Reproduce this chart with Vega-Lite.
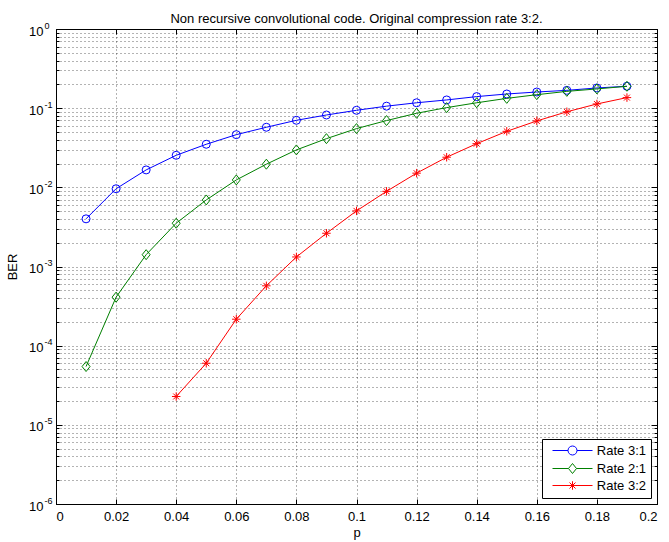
{
  "$schema": "https://vega.github.io/schema/vega-lite/v6.json",
  "width": 601,
  "height": 475,
  "autosize": {"type": "none"},
  "padding": {"left": 56, "top": 29, "right": 12, "bottom": 38},
  "background": "white",
  "title": {"text": "Non recursive convolutional code. Original compression rate 3:2.", "font": "Liberation Sans", "fontSize": 13, "fontWeight": "normal", "color": "black", "offset": -5, "anchor": "middle", "frame": "group"},
  "config": {
    "view": {"stroke": "black", "strokeWidth": 1},
    "axis": {"labelFont": "Liberation Sans", "labelFontSize": 13, "labelColor": "black", "titleFont": "Liberation Sans", "titleFontSize": 13, "titleFontWeight": "normal", "titleColor": "black", "domainColor": "black", "tickColor": "black", "gridColor": "#000000", "gridDash": [1, 3], "gridOpacity": 0.6, "gridWidth": 1}
  },
  "data": {"values": [
    {"p": 0.01, "ber": 0.0040, "series": "Rate 3:1"},
    {"p": 0.02, "ber": 0.0096, "series": "Rate 3:1"},
    {"p": 0.03, "ber": 0.0166, "series": "Rate 3:1"},
    {"p": 0.04, "ber": 0.0254, "series": "Rate 3:1"},
    {"p": 0.05, "ber": 0.035, "series": "Rate 3:1"},
    {"p": 0.06, "ber": 0.0463, "series": "Rate 3:1"},
    {"p": 0.07, "ber": 0.0574, "series": "Rate 3:1"},
    {"p": 0.08, "ber": 0.0703, "series": "Rate 3:1"},
    {"p": 0.09, "ber": 0.082, "series": "Rate 3:1"},
    {"p": 0.10, "ber": 0.094, "series": "Rate 3:1"},
    {"p": 0.11, "ber": 0.106, "series": "Rate 3:1"},
    {"p": 0.12, "ber": 0.117, "series": "Rate 3:1"},
    {"p": 0.13, "ber": 0.127, "series": "Rate 3:1"},
    {"p": 0.14, "ber": 0.140, "series": "Rate 3:1"},
    {"p": 0.15, "ber": 0.151, "series": "Rate 3:1"},
    {"p": 0.16, "ber": 0.160, "series": "Rate 3:1"},
    {"p": 0.17, "ber": 0.168, "series": "Rate 3:1"},
    {"p": 0.18, "ber": 0.180, "series": "Rate 3:1"},
    {"p": 0.19, "ber": 0.189, "series": "Rate 3:1"},
    {"p": 0.01, "ber": 0.0000545, "series": "Rate 2:1"},
    {"p": 0.02, "ber": 0.00041, "series": "Rate 2:1"},
    {"p": 0.03, "ber": 0.00141, "series": "Rate 2:1"},
    {"p": 0.04, "ber": 0.00352, "series": "Rate 2:1"},
    {"p": 0.05, "ber": 0.00693, "series": "Rate 2:1"},
    {"p": 0.06, "ber": 0.0124, "series": "Rate 2:1"},
    {"p": 0.07, "ber": 0.0196, "series": "Rate 2:1"},
    {"p": 0.08, "ber": 0.0297, "series": "Rate 2:1"},
    {"p": 0.09, "ber": 0.0412, "series": "Rate 2:1"},
    {"p": 0.10, "ber": 0.0552, "series": "Rate 2:1"},
    {"p": 0.11, "ber": 0.0697, "series": "Rate 2:1"},
    {"p": 0.12, "ber": 0.0862, "series": "Rate 2:1"},
    {"p": 0.13, "ber": 0.1016, "series": "Rate 2:1"},
    {"p": 0.14, "ber": 0.117, "series": "Rate 2:1"},
    {"p": 0.15, "ber": 0.133, "series": "Rate 2:1"},
    {"p": 0.16, "ber": 0.148, "series": "Rate 2:1"},
    {"p": 0.17, "ber": 0.163, "series": "Rate 2:1"},
    {"p": 0.18, "ber": 0.175, "series": "Rate 2:1"},
    {"p": 0.19, "ber": 0.189, "series": "Rate 2:1"},
    {"p": 0.04, "ber": 0.0000228, "series": "Rate 3:2"},
    {"p": 0.05, "ber": 0.00006, "series": "Rate 3:2"},
    {"p": 0.06, "ber": 0.000216, "series": "Rate 3:2"},
    {"p": 0.07, "ber": 0.00057, "series": "Rate 3:2"},
    {"p": 0.08, "ber": 0.00132, "series": "Rate 3:2"},
    {"p": 0.09, "ber": 0.00263, "series": "Rate 3:2"},
    {"p": 0.10, "ber": 0.00504, "series": "Rate 3:2"},
    {"p": 0.11, "ber": 0.0089, "series": "Rate 3:2"},
    {"p": 0.12, "ber": 0.0151, "series": "Rate 3:2"},
    {"p": 0.13, "ber": 0.024, "series": "Rate 3:2"},
    {"p": 0.14, "ber": 0.0356, "series": "Rate 3:2"},
    {"p": 0.15, "ber": 0.051, "series": "Rate 3:2"},
    {"p": 0.16, "ber": 0.069, "series": "Rate 3:2"},
    {"p": 0.17, "ber": 0.090, "series": "Rate 3:2"},
    {"p": 0.18, "ber": 0.113, "series": "Rate 3:2"},
    {"p": 0.19, "ber": 0.136, "series": "Rate 3:2"}
  ]},
  "layer": [
    {
      "transform": [{"filter": "datum.series === 'Rate 3:1'"}],
      "mark": {"type": "line", "strokeWidth": 1, "color": "#0000ff", "clip": true,
        "point": {"shape": "circle", "filled": false, "size": 64, "strokeWidth": 1, "color": "#0000ff"}},
      "encoding": {
        "x": {"field": "p", "type": "quantitative", "scale": {"domain": [0, 0.2], "nice": false, "zero": false},
          "axis": {"orient": "bottom", "values": [0, 0.02, 0.04, 0.06, 0.08, 0.1, 0.12, 0.14, 0.16, 0.18, 0.2], "format": "~g", "title": "p", "grid": true, "tickSize": -5, "labelPadding": 11, "titlePadding": 3}},
        "y": {"field": "ber", "type": "quantitative", "scale": {"type": "log", "domain": [0.000001, 1], "nice": false},
          "axis": {"orient": "left", "title": "BER", "grid": true, "titlePadding": 9, "labelPadding": 19, "labelOffset": 2,
            "values": [0.000001, 0.000002, 0.000003, 0.000004, 0.000005, 0.000006, 0.000007, 0.000008, 0.000009, 0.00001, 0.00002, 0.00003, 0.00004, 0.00005, 0.00006, 0.00007, 0.00008, 0.00009, 0.0001, 0.0002, 0.0003, 0.0004, 0.0005, 0.0006, 0.0007, 0.0008, 0.0009, 0.001, 0.002, 0.003, 0.004, 0.005, 0.006, 0.007, 0.008, 0.009, 0.01, 0.02, 0.03, 0.04, 0.05, 0.06, 0.07, 0.08, 0.09, 0.1, 0.2, 0.3, 0.4, 0.5, 0.6, 0.7, 0.8, 0.9, 1],
            "labelExpr": "abs(log(datum.value)/LN10 - round(log(datum.value)/LN10)) > 0.01 ? '' : '10'",
            "tickSize": {"condition": {"test": "abs(log(datum.value)/LN10 - round(log(datum.value)/LN10)) < 0.01", "value": -6}, "value": -3}}}
      }
    },
    {
      "transform": [{"filter": "datum.series === 'Rate 2:1'"}],
      "mark": {"type": "line", "strokeWidth": 1, "color": "#008000", "clip": true,
        "point": {"shape": "M0,-1L0.8,0L0,1L-0.8,0Z", "filled": false, "size": 100, "strokeWidth": 1, "color": "#008000"}},
      "encoding": {"x": {"field": "p", "type": "quantitative", "axis": null}, "y": {"field": "ber", "type": "quantitative", "axis": null}}
    },
    {
      "transform": [{"filter": "datum.series === 'Rate 3:2'"}],
      "mark": {"type": "line", "strokeWidth": 1, "color": "#ff0000", "clip": true,
        "point": {"shape": "M0,-1V1M-1,0H1M-0.7,-0.7L0.7,0.7M-0.7,0.7L0.7,-0.7", "filled": false, "size": 72, "strokeWidth": 1, "color": "#ff0000"}},
      "encoding": {"x": {"field": "p", "type": "quantitative", "axis": null}, "y": {"field": "ber", "type": "quantitative", "axis": null}}
    },
    {
      "mark": {"type": "point", "opacity": 0},
      "encoding": {
        "x": {"field": "p", "type": "quantitative", "axis": null},
        "y": {"field": "ber", "type": "quantitative",
          "axis": {"orient": "left", "title": null, "grid": false, "ticks": false, "domain": false, "labelFontSize": 9, "labelAlign": "left", "labelPadding": 12, "labelOffset": -4,
            "values": [0.000001, 0.00001, 0.0001, 0.001, 0.01, 0.1, 1],
            "labelExpr": "['-6','-5','-4','-3','-2','-1','0'][round(log(datum.value)/LN10)+6]"}}
      }
    },
    {
      "mark": {"type": "point", "filled": false, "strokeWidth": 1, "opacity": 0},
      "encoding": {
        "x": {"field": "p", "type": "quantitative",
          "axis": {"orient": "top", "values": [0, 0.02, 0.04, 0.06, 0.08, 0.1, 0.12, 0.14, 0.16, 0.18, 0.2], "labels": false, "grid": false, "tickSize": -5, "title": null, "domain": false}},
        "y": {"field": "ber", "type": "quantitative",
          "axis": {"orient": "right", "labels": false, "grid": false, "title": null, "domain": false,
            "values": [0.000001, 0.000002, 0.000003, 0.000004, 0.000005, 0.000006, 0.000007, 0.000008, 0.000009, 0.00001, 0.00002, 0.00003, 0.00004, 0.00005, 0.00006, 0.00007, 0.00008, 0.00009, 0.0001, 0.0002, 0.0003, 0.0004, 0.0005, 0.0006, 0.0007, 0.0008, 0.0009, 0.001, 0.002, 0.003, 0.004, 0.005, 0.006, 0.007, 0.008, 0.009, 0.01, 0.02, 0.03, 0.04, 0.05, 0.06, 0.07, 0.08, 0.09, 0.1, 0.2, 0.3, 0.4, 0.5, 0.6, 0.7, 0.8, 0.9, 1],
            "tickSize": {"condition": {"test": "abs(log(datum.value)/LN10 - round(log(datum.value)/LN10)) < 0.01", "value": -6}, "value": -3}}},
        "color": {"field": "series", "type": "nominal", "scale": {"domain": ["Rate 3:1", "Rate 2:1", "Rate 3:2"], "range": ["#0000ff", "#008000", "#ff0000"]},
          "legend": {"title": null, "orient": "bottom-right", "offset": 6, "strokeColor": "black", "fillColor": "white", "padding": 5, "labelFont": "Liberation Sans", "labelFontSize": 13, "labelColor": "black", "labelAlign": "right", "symbolSize": 100, "symbolOffset": 0, "labelOffset": 86, "rowPadding": 3, "symbolStrokeWidth": 1, "symbolOpacity": 1, "cornerRadius": 0}},
        "shape": {"field": "series", "type": "nominal",
          "scale": {"domain": ["Rate 3:1", "Rate 2:1", "Rate 3:2"], "range": [
            "M-0.2,0H2.9M4.7,0H7.8M2.9,0A0.9,0.9 0 1,0 4.7,0A0.9,0.9 0 1,0 2.9,0",
            "M-0.2,0H3M4.6,0H7.8M3.8,-1L4.6,0L3.8,1L3,0Z",
            "M-0.2,0H7.8M3.8,-0.85V0.85M3.2,-0.6L4.4,0.6M3.2,0.6L4.4,-0.6"]},
          "legend": {"title": null, "orient": "bottom-right", "offset": 6, "strokeColor": "black", "fillColor": "white", "padding": 5, "labelFont": "Liberation Sans", "labelFontSize": 13, "labelColor": "black", "labelAlign": "right", "symbolSize": 100, "symbolOffset": 0, "labelOffset": 86, "rowPadding": 3, "symbolStrokeWidth": 1, "symbolOpacity": 1, "cornerRadius": 0}}
      }
    }
  ],
  "resolve": {"axis": {"x": "independent", "y": "independent"}}
}
